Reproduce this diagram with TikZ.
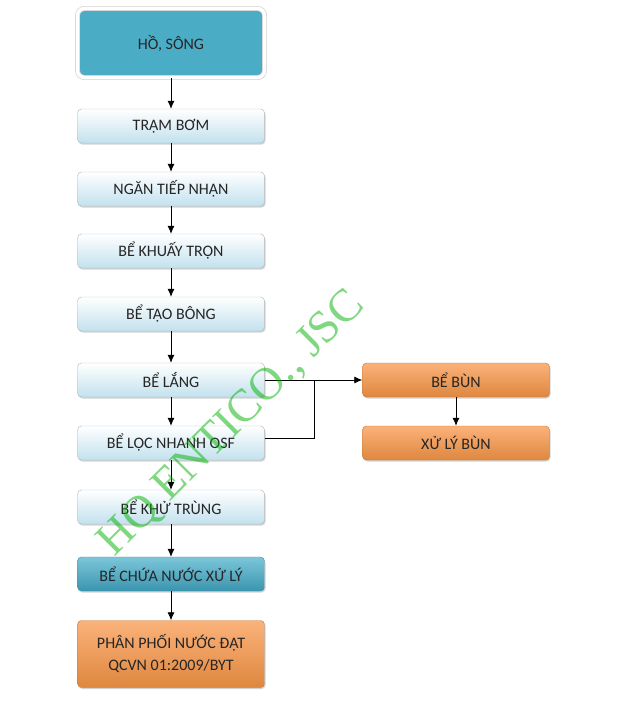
\documentclass[tikz,border=0pt]{standalone}
\usepackage{fontspec}
\setmainfont{Carlito}
\newfontfamily\markfont{Liberation Serif}
\usetikzlibrary{shadows,arrows.meta}
\definecolor{teal1}{HTML}{4BACC6}
\definecolor{teal2}{HTML}{3A95AE}
\definecolor{teal3}{HTML}{7CC6DA}
\definecolor{paleblue}{HTML}{C2E1EE}
\definecolor{orange1}{HTML}{F79646}
\definecolor{orange2}{HTML}{FBB27A}
\definecolor{edgegray}{HTML}{A9B9C0}
\tikzset{
	stage/.style={rectangle, rounded corners=4pt, minimum width=187pt, minimum height=34pt,
		draw=edgegray, top color=white, bottom color=paleblue, text=black!85,
		drop shadow={shadow xshift=1pt, shadow yshift=-1.5pt, opacity=0.35}},
	tank/.style={stage, draw=teal2, top color=teal3, bottom color=teal2},
	sludge/.style={stage, draw=orange1!80!black, top color=orange2, bottom color=orange1!90!black},
	flow/.style={->, >={Latex[length=8pt, width=7pt]}, line width=0.8pt}
}
\begin{document}
\begin{tikzpicture}[x=1pt, y=-1pt, font=\fontsize{16}{22}\selectfont]
		\useasboundingbox[fill=white] (0,0) rectangle (624,701);
		%source
		\node at (171,43) [rectangle, rounded corners=7pt, minimum width=187pt, minimum height=69pt,
			fill=teal1, draw=gray!35, line width=0.7pt, double=white, double distance=3.5pt, text=black!85,
			drop shadow={shadow xshift=1pt, shadow yshift=-2pt, opacity=0.4}] (song){HỒ, SÔNG};
		
		%treatment line
		\node at (171,126) [stage] (bom){TRẠM BƠM};
		\node at (171,189) [stage] (nhan){NGĂN TIẾP NHẬN};
		\node at (171,251) [stage] (tron){BỂ KHUẤY TRỘN};
		\node at (171,314) [stage] (bong){BỂ TẠO BÔNG};
		\node at (171,380) [stage] (lang){BỂ LẮNG};
		\node at (171,443) [stage] (loc){BỂ LỌC NHANH OSF};
		\node at (171,507) [stage] (khu){BỂ KHỬ TRÙNG};
		\node at (171,574) [tank] (chua){BỂ CHỨA NƯỚC XỬ LÝ};
		\node at (171,654) [sludge, minimum height=67pt, align=center] (phoi){PHÂN PHỐI NƯỚC ĐẠT\\QCVN 01:2009/BYT};
		
		%sludge line
		\node at (456,380) [sludge] (bun){BỂ BÙN};
		\node at (456,443) [sludge] (xlbun){XỬ LÝ BÙN};
		\coordinate (j) at (314,380);
		
		\draw[flow] (song) -- (bom);
		\draw[flow] (bom) -- (nhan);
		\draw[flow] (nhan) -- (tron);
		\draw[flow] (tron) -- (bong);
		\draw[flow] (bong) -- (lang);
		\draw[flow] (lang) -- (loc);
		\draw[flow] (loc) -- (khu);
		\draw[flow] (khu) -- (chua);
		\draw[flow] (chua) -- (phoi);
		\draw[flow] (lang) -- (bun);
		\draw[line width=0.8pt] ([yshift=5pt]loc.east) -| (j);
		\draw[flow] (bun) -- (xlbun);
		
		%watermark
		\node at (232,424) [rotate=45, text=green!70!black, opacity=0.5,
			font=\markfont\fontsize{46}{46}\selectfont] (mark){HQ ENTICO., JSC};
		\end{tikzpicture}
\end{document}
